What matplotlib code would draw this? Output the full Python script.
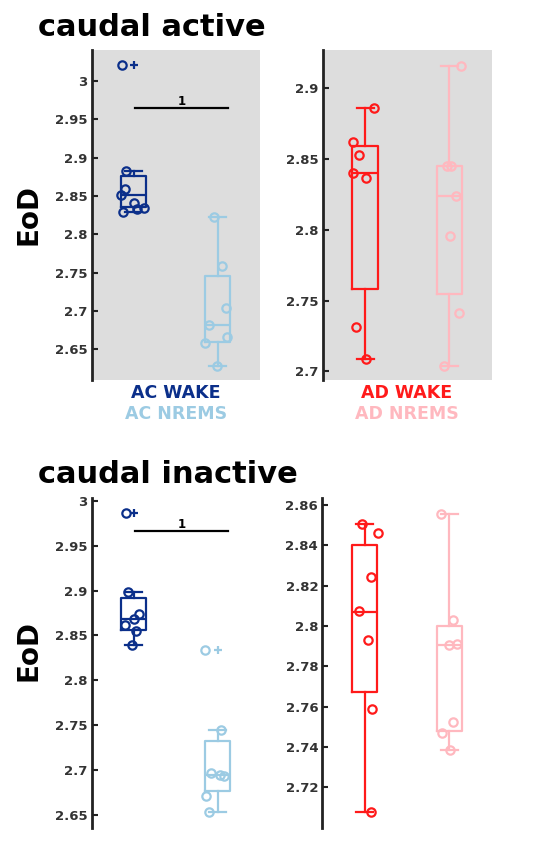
import matplotlib
matplotlib.use("Agg")
import matplotlib.pyplot as plt
from matplotlib.ticker import FuncFormatter

# colours for the four groups
c_ac_wake = '#0b2f8a'
c_ac_nrems = '#9ccbe3'
c_ad_wake = '#ff1a1a'
c_ad_nrems = '#ffb8bf'

# ---- caudal active ----
act_ac_wake = [3.020, 2.883, 2.859, 2.851, 2.8405, 2.8347, 2.8327, 2.829]
act_ac_wake_jit = [-0.14, -0.087, -0.107, -0.147, 0.008, 0.119, 0.04, -0.127]
act_ac_nrems = [2.822, 2.7586, 2.704, 2.6814, 2.666, 2.658, 2.628]
act_ac_nrems_jit = [-0.048, 0.052, 0.103, -0.107, 0.111, -0.155, -0.008]
act_ad_wake = [2.886, 2.862, 2.8527, 2.840, 2.837, 2.7315, 2.7085]
act_ad_wake_jit = [0.107, -0.146, -0.067, -0.146, 0.012, -0.111, 0.012]
act_ad_nrems = [2.9155, 2.845, 2.8455, 2.824, 2.796, 2.741, 2.704]
act_ad_nrems_jit = [0.138, -0.028, 0.012, 0.079, 0.004, 0.118, -0.067]

# box stats: whislo, q1, med, q3, whishi
act_ac_wake_box = [2.829, 2.8356, 2.851, 2.876, 2.883]
act_ac_wake_fliers = [3.020]
act_ac_nrems_box = [2.628, 2.6595, 2.681, 2.745, 2.822]
act_ad_wake_box = [2.7085, 2.758, 2.8405, 2.859, 2.886]
act_ad_nrems_box = [2.704, 2.755, 2.824, 2.845, 2.9155]

# ---- caudal inactive ----
ina_ac_wake = [2.986, 2.898, 2.874, 2.868, 2.862, 2.8545, 2.839]
ina_ac_wake_jit = [-0.087, -0.067, 0.06, 0.0, -0.107, 0.032, -0.02]
ina_ac_nrems = [2.8333, 2.745, 2.6967, 2.695, 2.693, 2.6707, 2.653]
ina_ac_nrems_jit = [-0.147, 0.044, -0.079, 0.032, 0.071, -0.139, -0.099]
ina_ad_wake = [2.8506, 2.846, 2.8242, 2.8074, 2.7929, 2.7586, 2.7075]
ina_ad_wake_jit = [-0.034, 0.152, 0.073, -0.065, 0.034, 0.081, 0.073]
ina_ad_nrems = [2.8555, 2.8031, 2.7904, 2.7912, 2.7525, 2.7467, 2.7385]
ina_ad_nrems_jit = [-0.101, 0.042, 0.0, 0.095, 0.047, -0.083, 0.012]

ina_ac_wake_box = [2.8397, 2.856, 2.868, 2.892, 2.898]
ina_ac_wake_fliers = [2.986]
ina_ac_nrems_box = [2.6529, 2.6763, 2.695, 2.7327, 2.745]
ina_ac_nrems_fliers = [2.8333]
ina_ad_wake_box = [2.7075, 2.7673, 2.8072, 2.8402, 2.8506]
ina_ad_nrems_box = [2.7385, 2.748, 2.7907, 2.80, 2.8555]

# significance bars (y value, label)
sig_active = (2.965, '1')
sig_inactive = (2.966, '1')


def stats(box, fliers=()):
    return dict(whislo=box[0], q1=box[1], med=box[2], q3=box[3], whishi=box[4],
                fliers=list(fliers))


def draw_group(ax, pos, box, fliers, vals, jit, color):
    ax.bxp([stats(box, fliers)], positions=[pos], widths=0.3, capwidths=0.2,
           boxprops=dict(color=color, linewidth=1.6),
           medianprops=dict(color=color, linewidth=1.6),
           whiskerprops=dict(color=color, linewidth=1.6),
           capprops=dict(color=color, linewidth=1.6),
           flierprops=dict(marker='+', markeredgecolor=color, markersize=6,
                           markeredgewidth=1.6),
           manage_ticks=False, zorder=3)
    ax.plot([pos + j for j in jit], vals, 'o', mfc='none', mec=color,
            ms=6, mew=1.6, zorder=4)


def style_axis(ax, ylim, ticks, gray):
    ax.set_xlim(0.5, 2.5)
    ax.set_ylim(*ylim)
    ax.set_yticks(ticks)
    ax.yaxis.set_major_formatter(FuncFormatter(lambda v, p: ('%.2f' % v).rstrip('0').rstrip('.')))
    ax.set_xticks([])
    for s in ['top', 'right', 'bottom']:
        ax.spines[s].set_visible(False)
    ax.spines['left'].set_linewidth(2)
    ax.spines['left'].set_color('#222222')
    ax.tick_params(axis='y', direction='in', length=4, width=1.5, color='#222222',
                   labelsize=9.5, labelcolor='#333333', pad=3)
    for lab in ax.get_yticklabels():
        lab.set_fontweight('bold')
    ax.set_facecolor('#dddddd' if gray else 'none')


def sig_bar(ax, sig):
    y, txt = sig
    ax.plot([1.01, 2.12], [y, y], color='black', lw=1.6, zorder=5)
    ax.text(1.57, y, txt, ha='center', va='bottom', fontsize=8.5,
            fontweight='bold')


fig = plt.figure(figsize=(5.5, 8.5), dpi=100)

ax1 = fig.add_axes([0.167, 0.553, 0.305, 0.388])
ax2 = fig.add_axes([0.587, 0.553, 0.307, 0.388])
ax3 = fig.add_axes([0.167, 0.026, 0.305, 0.388])
ax4 = fig.add_axes([0.586, 0.026, 0.308, 0.388])

# caudal active
draw_group(ax1, 1, act_ac_wake_box, act_ac_wake_fliers, act_ac_wake, act_ac_wake_jit, c_ac_wake)
draw_group(ax1, 2, act_ac_nrems_box, [], act_ac_nrems, act_ac_nrems_jit, c_ac_nrems)
style_axis(ax1, (2.61, 3.04), [2.65, 2.7, 2.75, 2.8, 2.85, 2.9, 2.95, 3.0], True)
sig_bar(ax1, sig_active)

draw_group(ax2, 1, act_ad_wake_box, [], act_ad_wake, act_ad_wake_jit, c_ad_wake)
draw_group(ax2, 2, act_ad_nrems_box, [], act_ad_nrems, act_ad_nrems_jit, c_ad_nrems)
style_axis(ax2, (2.694, 2.927), [2.7, 2.75, 2.8, 2.85, 2.9], True)

# caudal inactive
draw_group(ax3, 1, ina_ac_wake_box, ina_ac_wake_fliers, ina_ac_wake, ina_ac_wake_jit, c_ac_wake)
draw_group(ax3, 2, ina_ac_nrems_box, ina_ac_nrems_fliers, ina_ac_nrems, ina_ac_nrems_jit, c_ac_nrems)
style_axis(ax3, (2.6355, 3.003), [2.65, 2.7, 2.75, 2.8, 2.85, 2.9, 2.95, 3.0], False)
sig_bar(ax3, sig_inactive)

draw_group(ax4, 1, ina_ad_wake_box, [], ina_ad_wake, ina_ad_wake_jit, c_ad_wake)
draw_group(ax4, 2, ina_ad_nrems_box, [], ina_ad_nrems, ina_ad_nrems_jit, c_ad_nrems)
style_axis(ax4, (2.6998, 2.8635), [2.72, 2.74, 2.76, 2.78, 2.8, 2.82, 2.84, 2.86], False)

# titles, y labels, group names
fig.text(0.069, 0.958, 'caudal active', fontsize=22, fontweight='bold', va='baseline')
fig.text(0.069, 0.432, 'caudal inactive', fontsize=22, fontweight='bold', va='baseline')
fig.text(0.052, 0.748, 'EoD', fontsize=20, fontweight='bold', rotation=90,
         ha='center', va='center')
fig.text(0.052, 0.235, 'EoD', fontsize=20, fontweight='bold', rotation=90,
         ha='center', va='center')

fig.text(0.32, 0.538, 'AC WAKE', color=c_ac_wake, fontsize=12.5, fontweight='bold',
         ha='center', va='center')
fig.text(0.32, 0.513, 'AC NREMS', color=c_ac_nrems, fontsize=12.5, fontweight='bold',
         ha='center', va='center')
fig.text(0.74, 0.538, 'AD WAKE', color=c_ad_wake, fontsize=12.5, fontweight='bold',
         ha='center', va='center')
fig.text(0.74, 0.513, 'AD NREMS', color=c_ad_nrems, fontsize=12.5, fontweight='bold',
         ha='center', va='center')

fig.savefig('out.png', dpi=100)
